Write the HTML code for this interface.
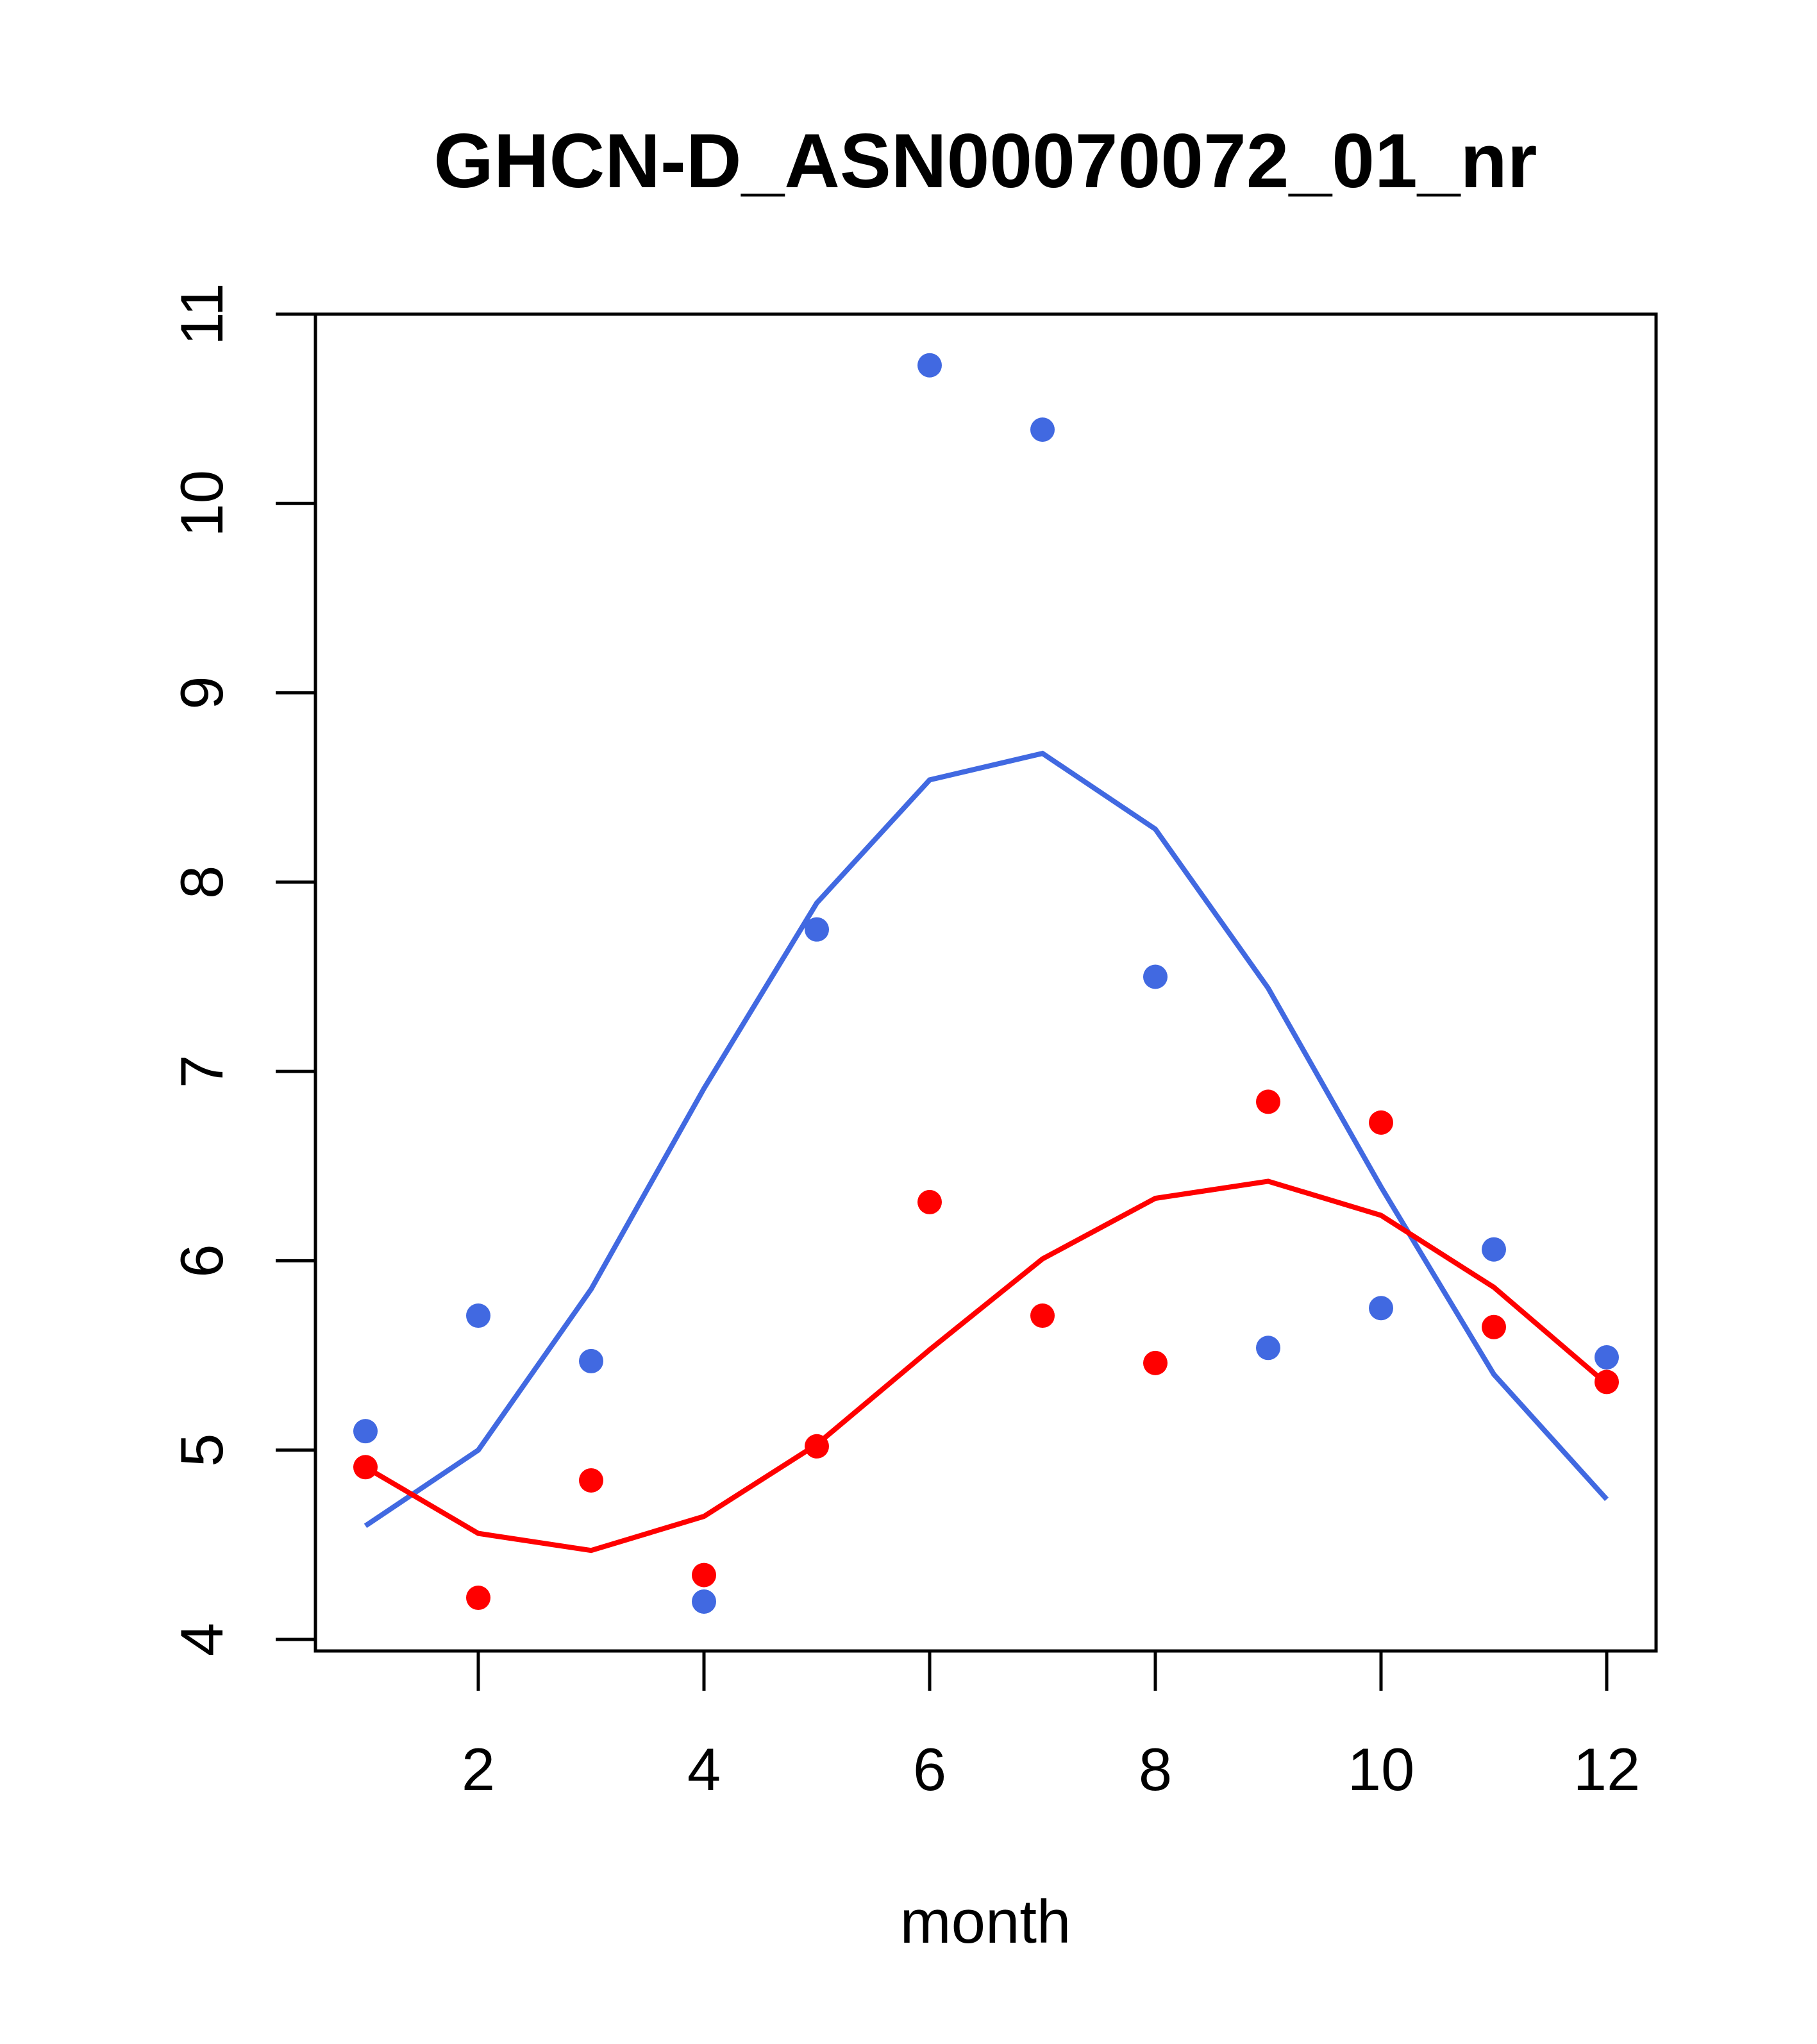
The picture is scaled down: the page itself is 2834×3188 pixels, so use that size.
<!DOCTYPE html>
<html><head><meta charset="utf-8"><style>html,body{margin:0;padding:0;background:#fff}svg{display:block}</style></head>
<body>
<svg id="chart" width="2834" height="3188" viewBox="0 0 2834 3188" xmlns="http://www.w3.org/2000/svg" font-family="'Liberation Sans', sans-serif">
<text x="1537" y="292" font-size="120" font-weight="bold" text-anchor="middle">GHCN-D_ASN00070072_01_nr</text>
<rect x="492" y="490" width="2091" height="2085" fill="none" stroke="#000" stroke-width="5"/>
<g id="axes"></g>
<g id="series"></g>
<text x="1537" y="3030" font-size="96" text-anchor="middle">month</text>
</svg>
<script>
const months=[1,2,3,4,5,6,7,8,9,10,11,12];
const bluePoints=[5.10,5.71,5.47,4.20,7.75,10.73,10.39,7.50,5.54,5.75,6.06,5.49];
const redPoints=[4.91,4.22,4.84,4.34,5.02,6.31,5.71,5.46,6.84,6.73,5.65,5.36];
const blueLine=[4.60,5.00,5.85,6.91,7.89,8.54,8.68,8.28,7.44,6.39,5.40,4.74];
const redLine=[4.91,4.56,4.47,4.65,5.03,5.53,6.01,6.33,6.42,6.24,5.86,5.35];
const xTicks=[2,4,6,8,10,12];
const yTicks=[4,5,6,7,8,9,10,11];
const NS='http://www.w3.org/2000/svg';
const xs=m=>746+(m-2)*(2506-746)/10;
const ys=v=>2557-(v-4)*(2557-490)/7;
function mk(t,a,p){const e=document.createElementNS(NS,t);for(const k in a)e.setAttribute(k,a[k]);p.appendChild(e);return e;}
const ax=document.getElementById('axes'),se=document.getElementById('series');
xTicks.forEach(t=>{
 const l=mk('line',{x1:xs(t),x2:xs(t),y1:2575,y2:2637,stroke:'#000','stroke-width':5},ax);
 
 
 const tx=mk('text',{x:xs(t),y:2792,'font-size':94,'text-anchor':'middle'},ax);tx.textContent=t;
 
 
});
yTicks.forEach(t=>{
 const l=mk('line',{x1:430,x2:492,y1:ys(t),y2:ys(t),stroke:'#000','stroke-width':5},ax);
 
 
 const tx=mk('text',{x:0,y:0,'font-size':94,'text-anchor':'middle',transform:`translate(347,${ys(t)}) rotate(-90)`},ax);tx.textContent=t;
 
 
});
function line(vals,col,name){
 const p=mk('polyline',{points:vals.map((v,i)=>xs(months[i])+','+ys(v)).join(' '),fill:'none',stroke:col,'stroke-width':8},se);
 
 
}
function pts(vals,col,name){
 vals.forEach((v,i)=>{const c=mk('circle',{cx:xs(months[i]),cy:ys(v),r:19,fill:col},se);
 
 });
}
line(blueLine,'#4169e1','blue-line');
line(redLine,'#ff0000','red-line');
pts(bluePoints,'#4169e1','blue-point');
pts(redPoints,'#ff0000','red-point');
</script>
</body></html>
